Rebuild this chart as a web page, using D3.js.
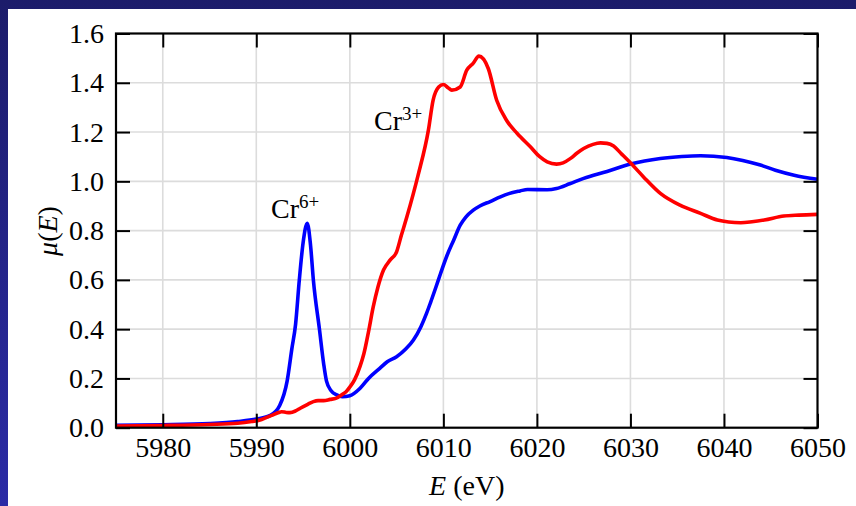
<!DOCTYPE html>
<html>
<head>
<meta charset="utf-8">
<script src="https://cdn.jsdelivr.net/npm/d3@7"></script>
<style>
  html, body { margin: 0; padding: 0; background: #1e1e70; }
  svg { display: block; }
  text { font-family: "Liberation Serif", "DejaVu Serif", serif; fill: #000; }
</style>
</head>
<body>
<svg id="chart" width="856" height="506"></svg>
<script>
// Cr K-edge XANES: absorption μ(E) for Cr6+ and Cr3+ references
const cr6Energy = [5975, 5980, 5985, 5988, 5990, 5991.5, 5992.5, 5993.3, 5993.8, 5994.2, 5994.6, 5995.0, 5995.45,
  5995.8, 5996.1, 5996.75, 5997.2, 5997.5, 5998.0, 5998.6, 5999.2, 6000.0, 6001.1, 6002.0, 6003.2, 6004.0,
  6005.0, 6006.0, 6006.8, 6007.6, 6008.2, 6008.6, 6009.2, 6009.7, 6010.4, 6011.1, 6011.8, 6012.4, 6013.2,
  6013.9, 6015.0, 6016.1, 6017.0, 6018.2, 6019.0, 6021.1, 6022.1, 6023.5, 6025.0, 6027.5, 6030.0, 6033.2,
  6035.5, 6037.5, 6040.3, 6042.0, 6043.9, 6045.5, 6047.5, 6050];
const cr6Mu = [0.010, 0.012, 0.017, 0.025, 0.035, 0.05, 0.09, 0.19, 0.32, 0.42, 0.60, 0.75, 0.83,
  0.74, 0.60, 0.40, 0.26, 0.19, 0.15, 0.133, 0.126, 0.13, 0.16, 0.20, 0.241, 0.268,
  0.288, 0.32, 0.356, 0.41, 0.464, 0.505, 0.57, 0.626, 0.70, 0.761, 0.822, 0.855, 0.883,
  0.90, 0.918, 0.937, 0.95, 0.961, 0.967, 0.966, 0.971, 0.99, 1.012, 1.04, 1.07, 1.093,
  1.101, 1.104, 1.097, 1.085, 1.066, 1.045, 1.025, 1.008];

const cr3Energy = [5975, 5980, 5985, 5988, 5989.5, 5990.4, 5991.0, 5991.8, 5992.4, 5992.7, 5993.2, 5993.6,
  5994.2, 5994.7, 5995.5, 5996.1, 5996.6, 5997.2, 5997.9, 5998.5, 5999.3, 5999.6, 6000.0, 6000.5, 6001.1,
  6001.5, 6002.0, 6002.5, 6003.0, 6003.6, 6004.3, 6005.0, 6005.5, 6006.1, 6007.3, 6008.4, 6008.9, 6009.5,
  6010.0, 6010.5, 6010.9, 6011.8, 6012.5, 6013.2, 6013.8, 6014.8, 6015.7, 6016.8, 6017.9, 6019.3, 6020.3,
  6021.1, 6022.1, 6022.8, 6023.6, 6024.3, 6025.0, 6026.0, 6026.8, 6027.5, 6028.2, 6029.0, 6030.0, 6031.4,
  6033.2, 6035.3, 6037.5, 6039.3, 6040.5, 6041.8, 6043.0, 6044.3, 6046.4, 6048, 6050];
const cr3Mu = [0.007, 0.009, 0.013, 0.018, 0.025, 0.031, 0.04, 0.052, 0.062, 0.065, 0.062, 0.061,
  0.068, 0.079, 0.095, 0.106, 0.110, 0.110, 0.115, 0.119, 0.138, 0.146, 0.165, 0.194, 0.25,
  0.30, 0.39, 0.49, 0.57, 0.64, 0.68, 0.714, 0.78, 0.856, 1.025, 1.208, 1.329, 1.383,
  1.393, 1.38, 1.37, 1.383, 1.451, 1.48, 1.508, 1.458, 1.329, 1.245, 1.194, 1.14, 1.10,
  1.079, 1.07, 1.075, 1.093, 1.115, 1.133, 1.15, 1.156, 1.154, 1.143, 1.113, 1.075, 1.018,
  0.951, 0.903, 0.87, 0.843, 0.835, 0.832, 0.836, 0.843, 0.859, 0.863, 0.866];

const xTicks = [5980, 5990, 6000, 6010, 6020, 6030, 6040, 6050];
const yTicks = [0.0, 0.2, 0.4, 0.6, 0.8, 1.0, 1.2, 1.4, 1.6];

const svg = d3.select("#chart");
const W = 856, H = 506;
const margin = { left: 116, top: 33.5, right: W - 817.5, bottom: H - 427.7 };
const iw = W - margin.left - margin.right;
const ih = H - margin.top - margin.bottom;
const fontSize = 28;

// slide background with a white panel
const defs = svg.append("defs");
const grad = defs.append("linearGradient").attr("id", "bg").attr("x1", 0).attr("y1", 0).attr("x2", 0).attr("y2", 1);
grad.append("stop").attr("offset", "0%").attr("stop-color", "#1c1c6a");
grad.append("stop").attr("offset", "100%").attr("stop-color", "#2b2ba6");
svg.append("rect").attr("width", W).attr("height", H).attr("fill", "url(#bg)");
svg.append("rect").attr("x", 8).attr("y", 9).attr("width", W - 8).attr("height", H - 9).attr("fill", "#fff");

const x = d3.scaleLinear().domain([5975, 6050]).range([0, iw]);
const y = d3.scaleLinear().domain([0, 1.6]).range([ih, 0]);

const g = svg.append("g").attr("transform", `translate(${margin.left},${margin.top})`);

// grid
g.append("g").selectAll("line").data(xTicks.filter(d => d < 6050)).join("line")
  .attr("x1", d => x(d)).attr("x2", d => x(d)).attr("y1", 0).attr("y2", ih)
  .attr("stroke", "#dcdcdc").attr("stroke-width", 1.6);
g.append("g").selectAll("line").data(yTicks.filter(d => d > 0 && d < 1.6)).join("line")
  .attr("x1", 0).attr("x2", iw).attr("y1", d => y(d)).attr("y2", d => y(d))
  .attr("stroke", "#dcdcdc").attr("stroke-width", 1.6);

// curves
const line = d3.line().x(d => x(d[0])).y(d => y(d[1])).curve(d3.curveMonotoneX);
const cr6 = cr6Energy.map((e, i) => [e, cr6Mu[i]]);
const cr3 = cr3Energy.map((e, i) => [e, cr3Mu[i]]);
g.append("path").datum(cr6).attr("d", line).attr("fill", "none")
  .attr("stroke", "#0000ff").attr("stroke-width", 3.6).attr("stroke-linejoin", "round");
g.append("path").datum(cr3).attr("d", line).attr("fill", "none")
  .attr("stroke", "#ff0000").attr("stroke-width", 3.6).attr("stroke-linejoin", "round");

// axes with inward ticks
const tickLen = 14;
const styleAxis = sel => {
  sel.select(".domain").remove();
  sel.selectAll(".tick line").attr("stroke", "#000").attr("stroke-width", 2);
  sel.selectAll(".tick text").attr("font-size", fontSize).attr("fill", "#000");
};
g.append("g").attr("transform", `translate(0,${ih})`)
  .call(d3.axisBottom(x).tickValues(xTicks).tickFormat(d3.format("d")).tickSizeInner(-tickLen).tickSizeOuter(0).tickPadding(9))
  .call(styleAxis);
g.append("g")
  .call(d3.axisTop(x).tickValues(xTicks).tickFormat("").tickSizeInner(-tickLen).tickSizeOuter(0))
  .call(styleAxis);
g.append("g")
  .call(d3.axisLeft(y).tickValues(yTicks).tickFormat(d3.format(".1f")).tickSizeInner(-tickLen).tickSizeOuter(0).tickPadding(12))
  .call(styleAxis);
g.append("g").attr("transform", `translate(${iw},0)`)
  .call(d3.axisRight(y).tickValues(yTicks).tickFormat("").tickSizeInner(-tickLen).tickSizeOuter(0))
  .call(styleAxis);

// frame
g.append("rect").attr("width", iw).attr("height", ih).attr("fill", "none")
  .attr("stroke", "#000").attr("stroke-width", 2.2);

// axis titles
const xt = svg.append("text").attr("x", margin.left + iw / 2).attr("y", 495)
  .attr("text-anchor", "middle").attr("font-size", fontSize);
xt.append("tspan").attr("font-style", "italic").text("E");
xt.append("tspan").text(" (eV)");

const yt = svg.append("text").attr("transform", "translate(57,231) rotate(-90)")
  .attr("text-anchor", "middle").attr("font-size", fontSize);
yt.append("tspan").attr("font-style", "italic").text("μ");
yt.append("tspan").text("(");
yt.append("tspan").attr("font-style", "italic").text("E");
yt.append("tspan").text(")");

// peak annotations
function ionLabel(px, py, charge) {
  const t = svg.append("text").attr("x", px).attr("y", py).attr("font-size", fontSize);
  t.append("tspan").text("Cr");
  t.append("tspan").attr("font-size", 19).attr("dy", -10).text(charge);
}
ionLabel(271, 218, "6+");
ionLabel(374, 130, "3+");
</script>
</body>
</html>
